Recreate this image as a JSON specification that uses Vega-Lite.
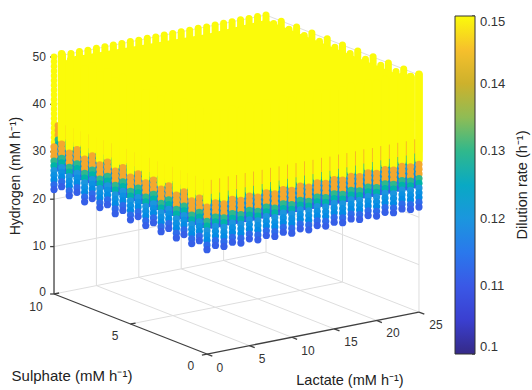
{"$schema":"https://vega.github.io/schema/vega-lite/v6.json","width":532,"height":390,"padding":0,"autosize":{"type":"none"},"background":"white","config":{"view":{"stroke":null},"font":"Liberation Sans"},
"datasets":{
"grid":[{"u":-18.04,"v":12.66,"u2":6.96,"v2":21.51},{"u":6.96,"v":21.51,"u2":25,"v2":8.85},{"u":-18.04,"v":22.66,"u2":6.96,"v2":31.51},{"u":6.96,"v":31.51,"u2":25,"v2":18.85},{"u":-18.04,"v":32.66,"u2":6.96,"v2":41.51},{"u":6.96,"v":41.51,"u2":25,"v2":28.85},{"u":-18.04,"v":42.66,"u2":6.96,"v2":51.51},{"u":6.96,"v":51.51,"u2":25,"v2":38.85},{"u":-18.04,"v":52.66,"u2":6.96,"v2":61.51},{"u":6.96,"v":61.51,"u2":25,"v2":48.85},{"u":-18.04,"v":62.66,"u2":6.96,"v2":71.51},{"u":6.96,"v":71.51,"u2":25,"v2":58.85},{"u":-13.04,"v":14.43,"u2":-13.04,"v2":64.43},{"u":-8.04,"v":16.2,"u2":-8.04,"v2":66.2},{"u":-3.04,"v":17.97,"u2":-3.04,"v2":67.97},{"u":1.96,"v":19.74,"u2":1.96,"v2":69.74},{"u":6.96,"v":21.51,"u2":6.96,"v2":71.51},{"u":15.98,"v":15.18,"u2":15.98,"v2":65.18},{"u":25,"v":8.85,"u2":25,"v2":58.85},{"u":5,"v":1.77,"u2":-13.04,"v2":14.43},{"u":10,"v":3.54,"u2":-8.04,"v2":16.2},{"u":15,"v":5.31,"u2":-3.04,"v2":17.97},{"u":20,"v":7.08,"u2":1.96,"v2":19.74},{"u":-9.02,"v":6.33,"u2":15.98,"v2":15.18}],
"axes":[{"u":-18.04,"v":12.66,"u2":-18.04,"v2":62.66},{"u":0,"v":0,"u2":-18.04,"v2":12.66},{"u":0,"v":0,"u2":25,"v2":8.85},{"u":-18.04,"v":12.66,"u2":-18.5,"v2":12.66},{"u":-18.04,"v":22.66,"u2":-18.5,"v2":22.66},{"u":-18.04,"v":32.66,"u2":-18.5,"v2":32.66},{"u":-18.04,"v":42.66,"u2":-18.5,"v2":42.66},{"u":-18.04,"v":52.66,"u2":-18.5,"v2":52.66},{"u":-18.04,"v":62.66,"u2":-18.5,"v2":62.66},{"u":0,"v":0,"u2":0.63,"v2":-0.44},{"u":5,"v":1.77,"u2":5.63,"v2":1.33},{"u":10,"v":3.54,"u2":10.63,"v2":3.1},{"u":15,"v":5.31,"u2":15.63,"v2":4.87},{"u":20,"v":7.08,"u2":20.63,"v2":6.64},{"u":25,"v":8.85,"u2":25.63,"v2":8.41},{"u":-9.02,"v":6.33,"u2":-8.42,"v2":6.54},{"u":-18.04,"v":12.66,"u2":-17.44,"v2":12.87},{"u":0,"v":0,"u2":-0.6,"v2":-0.21},{"u":31.25,"v":71.3,"u2":31.6,"v2":71.3},{"u":31.25,"v":56.96,"u2":31.6,"v2":56.96},{"u":31.25,"v":42.83,"u2":31.6,"v2":42.83},{"u":31.25,"v":28.5,"u2":31.6,"v2":28.5},{"u":31.25,"v":14.35,"u2":31.6,"v2":14.35},{"u":31.25,"v":0,"u2":31.6,"v2":0}],
"back":[{"u":-17.04,"v":63,"v2":46},{"u":-16.04,"v":63.4,"v2":45.3},{"u":-15.04,"v":63.8,"v2":44.6},{"u":-14.04,"v":64.1,"v2":43.9},{"u":-13.04,"v":64.5,"v2":43.2},{"u":-12.04,"v":64.8,"v2":42.5},{"u":-11.04,"v":65.2,"v2":41.8},{"u":-10.04,"v":65.5,"v2":41},{"u":-9.04,"v":65.9,"v2":40.3},{"u":-8.04,"v":66.2,"v2":39.6},{"u":-7.04,"v":66.6,"v2":38.9},{"u":-6.04,"v":66.9,"v2":38.2},{"u":-5.04,"v":67.3,"v2":37.5},{"u":-4.04,"v":67.6,"v2":36.8},{"u":-3.04,"v":68,"v2":36.1},{"u":-2.04,"v":68.3,"v2":35.4},{"u":-1.04,"v":68.7,"v2":34.7},{"u":-0.04,"v":69,"v2":34},{"u":0.96,"v":69.4,"v2":34.3},{"u":1.96,"v":69.8,"v2":34.7},{"u":2.96,"v":70.1,"v2":35},{"u":3.96,"v":70.5,"v2":35.4},{"u":4.96,"v":70.8,"v2":35.8},{"u":5.96,"v":71.2,"v2":36.1},{"u":6.96,"v":71.5,"v2":36.5},{"u":7.86,"v":69.7,"v2":36.8},{"u":8.76,"v":70.2,"v2":37.1},{"u":9.67,"v":68.5,"v2":37.4},{"u":10.57,"v":69,"v2":37.7},{"u":11.47,"v":67.2,"v2":38.1},{"u":12.37,"v":67.7,"v2":38.4},{"u":13.27,"v":66,"v2":38.7},{"u":14.18,"v":66.5,"v2":39},{"u":15.08,"v":64.7,"v2":39.3},{"u":15.98,"v":65.2,"v2":39.7},{"u":16.88,"v":63.4,"v2":40},{"u":17.78,"v":63.9,"v2":40.3},{"u":18.69,"v":62.2,"v2":40.6},{"u":19.59,"v":62.7,"v2":40.9},{"u":20.49,"v":60.9,"v2":41.3},{"u":21.39,"v":61.4,"v2":41.6},{"u":22.29,"v":59.6,"v2":41.9},{"u":23.2,"v":60.1,"v2":42.2},{"u":24.1,"v":58.4,"v2":42.5},{"u":25,"v":58.9,"v2":42.9}],
"mass":[{"u":-16.5,"v":62.5,"v2":45},{"u":0,"v":67.5,"v2":33.5},{"u":6.96,"v":70.5,"v2":36},{"u":22.5,"v":59,"v2":41.5}],
"filler":[
{"u":-17.59,"v":[48.2,47.2,46.2,45.2,44.2,43.2,42.2,41.2,40.2,39.2]},
{"u":-16.69,"v":[47.6,46.6,45.6,44.6,43.6,42.6,41.6,40.6,39.6,38.6]},
{"u":-15.78,"v":[47,46,45,44,43,42,41,40,39,38]},
{"u":-14.88,"v":[46.3,45.3,44.3,43.3,42.3,41.3,40.3,39.3,38.3,37.3]},
{"u":-13.98,"v":[45.7,44.7,43.7,42.7,41.7,40.7,39.7,38.7,37.7,36.7]},
{"u":-13.08,"v":[45.1,44.1,43.1,42.1,41.1,40.1,39.1,38.1,37.1,36.1]},
{"u":-12.18,"v":[44.4,43.4,42.4,41.4,40.4,39.4,38.4,37.4,36.4,35.4]},
{"u":-11.27,"v":[43.8,42.8,41.8,40.8,39.8,38.8,37.8,36.8,35.8,34.8]},
{"u":-10.37,"v":[43.2,42.2,41.2,40.2,39.2,38.2,37.2,36.2,35.2,34.2]},
{"u":-9.47,"v":[42.6,41.6,40.6,39.6,38.6,37.6,36.6,35.6,34.6,33.6]},
{"u":-8.57,"v":[41.9,40.9,39.9,38.9,37.9,36.9,35.9,34.9,33.9,32.9]},
{"u":-7.67,"v":[41.3,40.3,39.3,38.3,37.3,36.3,35.3,34.3,33.3,32.3]},
{"u":-6.76,"v":[40.7,39.7,38.7,37.7,36.7,35.7,34.7,33.7,32.7,31.7]},
{"u":-5.86,"v":[40,39,38,37,36,35,34,33,32,31]},
{"u":-4.96,"v":[39.4,38.4,37.4,36.4,35.4,34.4,33.4,32.4,31.4,30.4]},
{"u":-4.06,"v":[38.8,37.8,36.8,35.8,34.8,33.8,32.8,31.8,30.8,29.8]},
{"u":-3.16,"v":[38.1,37.1,36.1,35.1,34.1,33.1,32.1,31.1,30.1,29.1]},
{"u":-2.26,"v":[37.5,36.5,35.5,34.5,33.5,32.5,31.5,30.5,29.5,28.5]},
{"u":-1.35,"v":[36.9,35.9,34.9,33.9,32.9,31.9,30.9,29.9,28.9,27.9]},
{"u":-0.45,"v":[36.2,35.2,34.2,33.2,32.2,31.2,30.2,29.2,28.2,27.2]},
{"u":24.5,"v":[44.6,43.6,42.6,41.6,40.6,39.6,38.6,37.6,36.6,35.6]},
{"u":23.5,"v":[44.2,43.2,42.2,41.2,40.2,39.2,38.2,37.2,36.2,35.2]},
{"u":22.5,"v":[43.9,42.9,41.9,40.9,39.9,38.9,37.9,36.9,35.9,34.9]},
{"u":21.5,"v":[43.5,42.5,41.5,40.5,39.5,38.5,37.5,36.5,35.5,34.5]},
{"u":20.5,"v":[43.2,42.2,41.2,40.2,39.2,38.2,37.2,36.2,35.2,34.2]},
{"u":19.5,"v":[42.8,41.8,40.8,39.8,38.8,37.8,36.8,35.8,34.8,33.8]},
{"u":18.5,"v":[42.5,41.5,40.5,39.5,38.5,37.5,36.5,35.5,34.5,33.5]},
{"u":17.5,"v":[42.1,41.1,40.1,39.1,38.1,37.1,36.1,35.1,34.1,33.1]},
{"u":16.5,"v":[41.7,40.7,39.7,38.7,37.7,36.7,35.7,34.7,33.7,32.7]},
{"u":15.5,"v":[41.4,40.4,39.4,38.4,37.4,36.4,35.4,34.4,33.4,32.4]},
{"u":14.5,"v":[41,40,39,38,37,36,35,34,33,32]},
{"u":13.5,"v":[40.7,39.7,38.7,37.7,36.7,35.7,34.7,33.7,32.7,31.7]},
{"u":12.5,"v":[40.3,39.3,38.3,37.3,36.3,35.3,34.3,33.3,32.3,31.3]},
{"u":11.5,"v":[40,39,38,37,36,35,34,33,32,31]},
{"u":10.5,"v":[39.6,38.6,37.6,36.6,35.6,34.6,33.6,32.6,31.6,30.6]},
{"u":9.5,"v":[39.3,38.3,37.3,36.3,35.3,34.3,33.3,32.3,31.3,30.3]},
{"u":8.5,"v":[38.9,37.9,36.9,35.9,34.9,33.9,32.9,31.9,30.9,29.9]},
{"u":7.5,"v":[38.6,37.6,36.6,35.6,34.6,33.6,32.6,31.6,30.6,29.6]},
{"u":6.5,"v":[38.2,37.2,36.2,35.2,34.2,33.2,32.2,31.2,30.2,29.2]},
{"u":5.5,"v":[37.8,36.8,35.8,34.8,33.8,32.8,31.8,30.8,29.8,28.8]},
{"u":4.5,"v":[37.5,36.5,35.5,34.5,33.5,32.5,31.5,30.5,29.5,28.5]},
{"u":3.5,"v":[37.1,36.1,35.1,34.1,33.1,32.1,31.1,30.1,29.1,28.1]},
{"u":2.5,"v":[36.8,35.8,34.8,33.8,32.8,31.8,30.8,29.8,28.8,27.8]},
{"u":1.5,"v":[36.4,35.4,34.4,33.4,32.4,31.4,30.4,29.4,28.4,27.4]},
{"u":0.5,"v":[36.1,35.1,34.1,33.1,32.1,31.1,30.1,29.1,28.1,27.1]}],
"fronty":[{"u":-17.14,"v":63.3,"v2":45.3},{"u":-16.24,"v":61.4,"v2":43.4},{"u":-15.33,"v":62.1,"v2":44.1},{"u":-14.43,"v":60.1,"v2":42.1},{"u":-13.53,"v":60.8,"v2":42.8},{"u":-12.63,"v":58.9,"v2":40.9},{"u":-11.73,"v":59.5,"v2":41.5},{"u":-10.82,"v":57.6,"v2":39.6},{"u":-9.92,"v":58.3,"v2":40.3},{"u":-9.02,"v":56.3,"v2":38.3},{"u":-8.12,"v":57,"v2":39},{"u":-7.22,"v":55.1,"v2":37.1},{"u":-6.31,"v":55.7,"v2":37.7},{"u":-5.41,"v":53.8,"v2":35.8},{"u":-4.51,"v":54.5,"v2":36.5},{"u":-3.61,"v":52.5,"v2":34.5},{"u":-2.71,"v":53.2,"v2":35.2},{"u":-1.8,"v":51.3,"v2":33.3},{"u":-0.9,"v":51.9,"v2":33.9},{"u":0,"v":50,"v2":32},{"u":25,"v":59,"v2":41},{"u":24,"v":58.5,"v2":40.5},{"u":23,"v":58.6,"v2":40.6},{"u":22,"v":57.8,"v2":39.8},{"u":21,"v":57.9,"v2":39.9},{"u":20,"v":57.1,"v2":39.1},{"u":19,"v":57.2,"v2":39.2},{"u":18,"v":56.4,"v2":38.4},{"u":17,"v":56.5,"v2":38.5},{"u":16,"v":55.7,"v2":37.7},{"u":15,"v":55.8,"v2":37.8},{"u":14,"v":55,"v2":37},{"u":13,"v":55.1,"v2":37.1},{"u":12,"v":54.2,"v2":36.2},{"u":11,"v":54.4,"v2":36.4},{"u":10,"v":53.5,"v2":35.5},{"u":9,"v":53.7,"v2":35.7},{"u":8,"v":52.8,"v2":34.8},{"u":7,"v":53,"v2":35},{"u":6,"v":52.1,"v2":34.1},{"u":5,"v":52.3,"v2":34.3},{"u":4,"v":51.4,"v2":33.4},{"u":3,"v":51.6,"v2":33.6},{"u":2,"v":50.7,"v2":32.7},{"u":1,"v":50.9,"v2":32.9}],
"first":[{"u":-18.04,"v":[62.7,61.7,60.7,59.7,58.7,57.7,56.7,55.7,54.7,53.7,52.7,51.7,50.7,49.7,48.7,47.7,46.7,45.7,44.7],"d":[0.15,0.15,0.15,0.15,0.15,0.15,0.15,0.15,0.15,0.15,0.15,0.15,0.15,0.15,0.15,0.15,0.15,0.15,0.15]}],
"front":[
{"u":-18.04,"v":[43.7,42.7,41.7,40.7,39.7,38.7,37.7,36.7,35.7,34.7]},
{"u":-17.14,"v":[44.3,43.3,42.3,41.3,40.3,39.3,38.3,37.3,36.3,35.3]},
{"u":-16.24,"v":[42.4,41.4,40.4,39.4,38.4,37.4,36.4,35.4,34.4,33.4]},
{"u":-15.33,"v":[43.1,42.1,41.1,40.1,39.1,38.1,37.1,36.1,35.1,34.1]},
{"u":-14.43,"v":[41.1,40.1,39.1,38.1,37.1,36.1,35.1,34.1,33.1,32.1]},
{"u":-13.53,"v":[41.8,40.8,39.8,38.8,37.8,36.8,35.8,34.8,33.8,32.8]},
{"u":-12.63,"v":[39.9,38.9,37.9,36.9,35.9,34.9,33.9,32.9,31.9,30.9]},
{"u":-11.73,"v":[40.5,39.5,38.5,37.5,36.5,35.5,34.5,33.5,32.5,31.5]},
{"u":-10.82,"v":[38.6,37.6,36.6,35.6,34.6,33.6,32.6,31.6,30.6,29.6]},
{"u":-9.92,"v":[39.3,38.3,37.3,36.3,35.3,34.3,33.3,32.3,31.3,30.3]},
{"u":-9.02,"v":[37.3,36.3,35.3,34.3,33.3,32.3,31.3,30.3,29.3,28.3]},
{"u":-8.12,"v":[38,37,36,35,34,33,32,31,30,29]},
{"u":-7.22,"v":[36.1,35.1,34.1,33.1,32.1,31.1,30.1,29.1,28.1,27.1]},
{"u":-6.31,"v":[36.7,35.7,34.7,33.7,32.7,31.7,30.7,29.7,28.7,27.7]},
{"u":-5.41,"v":[34.8,33.8,32.8,31.8,30.8,29.8,28.8,27.8,26.8,25.8]},
{"u":-4.51,"v":[35.5,34.5,33.5,32.5,31.5,30.5,29.5,28.5,27.5,26.5]},
{"u":-3.61,"v":[33.5,32.5,31.5,30.5,29.5,28.5,27.5,26.5,25.5,24.5]},
{"u":-2.71,"v":[34.2,33.2,32.2,31.2,30.2,29.2,28.2,27.2,26.2,25.2]},
{"u":-1.8,"v":[32.3,31.3,30.3,29.3,28.3,27.3,26.3,25.3,24.3,23.3]},
{"u":-0.9,"v":[32.9,31.9,30.9,29.9,28.9,27.9,26.9,25.9,24.9,23.9]},
{"u":25,"v":[40,39,38,37,36,35,34,33,32,31]},
{"u":24,"v":[39.5,38.5,37.5,36.5,35.5,34.5,33.5,32.5,31.5,30.5]},
{"u":23,"v":[39.6,38.6,37.6,36.6,35.6,34.6,33.6,32.6,31.6,30.6]},
{"u":22,"v":[38.8,37.8,36.8,35.8,34.8,33.8,32.8,31.8,30.8,29.8]},
{"u":21,"v":[38.9,37.9,36.9,35.9,34.9,33.9,32.9,31.9,30.9,29.9]},
{"u":20,"v":[38.1,37.1,36.1,35.1,34.1,33.1,32.1,31.1,30.1,29.1]},
{"u":19,"v":[38.2,37.2,36.2,35.2,34.2,33.2,32.2,31.2,30.2,29.2]},
{"u":18,"v":[37.4,36.4,35.4,34.4,33.4,32.4,31.4,30.4,29.4,28.4]},
{"u":17,"v":[37.5,36.5,35.5,34.5,33.5,32.5,31.5,30.5,29.5,28.5]},
{"u":16,"v":[36.7,35.7,34.7,33.7,32.7,31.7,30.7,29.7,28.7,27.7]},
{"u":15,"v":[36.8,35.8,34.8,33.8,32.8,31.8,30.8,29.8,28.8,27.8]},
{"u":14,"v":[36,35,34,33,32,31,30,29,28,27]},
{"u":13,"v":[36.1,35.1,34.1,33.1,32.1,31.1,30.1,29.1,28.1,27.1]},
{"u":12,"v":[35.2,34.2,33.2,32.2,31.2,30.2,29.2,28.2,27.2,26.2]},
{"u":11,"v":[35.4,34.4,33.4,32.4,31.4,30.4,29.4,28.4,27.4,26.4]},
{"u":10,"v":[34.5,33.5,32.5,31.5,30.5,29.5,28.5,27.5,26.5,25.5]},
{"u":9,"v":[34.7,33.7,32.7,31.7,30.7,29.7,28.7,27.7,26.7,25.7]},
{"u":8,"v":[33.8,32.8,31.8,30.8,29.8,28.8,27.8,26.8,25.8,24.8]},
{"u":7,"v":[34,33,32,31,30,29,28,27,26,25]},
{"u":6,"v":[33.1,32.1,31.1,30.1,29.1,28.1,27.1,26.1,25.1,24.1]},
{"u":5,"v":[33.3,32.3,31.3,30.3,29.3,28.3,27.3,26.3,25.3,24.3]},
{"u":4,"v":[32.4,31.4,30.4,29.4,28.4,27.4,26.4,25.4,24.4,23.4]},
{"u":3,"v":[32.6,31.6,30.6,29.6,28.6,27.6,26.6,25.6,24.6,23.6]},
{"u":2,"v":[31.7,30.7,29.7,28.7,27.7,26.7,25.7,24.7,23.7,22.7]},
{"u":1,"v":[31.9,30.9,29.9,28.9,27.9,26.9,25.9,24.9,23.9,22.9]},
{"u":0,"v":[31,30,29,28,27,26,25,24,23,22]}],
"levels":[{"k":1,"d":0.142},{"k":2,"d":0.142},{"k":3,"d":0.142},{"k":4,"d":0.13},{"k":5,"d":0.128},{"k":6,"d":0.12},{"k":7,"d":0.119},{"k":8,"d":0.118},{"k":9,"d":0.113},{"k":10,"d":0.111}],
"right":[{"u":-18.99,"v":62.66,"t":"50"},{"u":-18.99,"v":52.74,"t":"40"},{"u":-18.99,"v":42.83,"t":"30"},{"u":-18.99,"v":32.7,"t":"20"},{"u":-18.99,"v":22.78,"t":"10"},{"u":-18.99,"v":13.08,"t":"0"}],
"center":[{"u":-20.17,"v":9.92,"t":"10"},{"u":-10.85,"v":3.8,"t":"5"},{"u":-1.89,"v":-2.53,"t":"0"},{"u":1.53,"v":-2.95,"t":"0"},{"u":6.49,"v":-1.05,"t":"5"},{"u":11.91,"v":0.63,"t":"10"},{"u":16.98,"v":2.53,"t":"15"},{"u":21.93,"v":4.43,"t":"20"},{"u":27,"v":6.12,"t":"25"}],
"titles":[{"u":-15.92,"v":-4.64,"t":"Sulphate (mM h⁻¹)","s":15},{"u":16.86,"v":-5.7,"t":"Lactate (mM h⁻¹)","s":14.5}],
"vtitles":[{"u":-22.52,"v":37.55,"t":"Hydrogen (mM h⁻¹)","s":14},{"u":37.26,"v":35.65,"t":"Dilution rate (h⁻¹)","s":14.5}]
},
"encoding":{"x":{"field":"u","type":"quantitative","scale":{"domain":[-24.41,38.33],"nice":false,"zero":false},"axis":null},"y":{"field":"v","type":"quantitative","scale":{"domain":[-7.59,74.68],"nice":false,"zero":false},"axis":null}},
"layer":[
{"data":{"name":"grid"},"mark":{"type":"rule","stroke":"#dedede","strokeWidth":1},"encoding":{"x2":{"field":"u2"},"y2":{"field":"v2"}}},
{"data":{"name":"axes"},"mark":{"type":"rule","stroke":"#404040","strokeWidth":1.3},"encoding":{"x2":{"field":"u2"},"y2":{"field":"v2"}}},
{"data":{"name":"back"},"mark":{"type":"rule","stroke":"#fbfb0a","strokeWidth":7,"strokeCap":"round"},"encoding":{"y2":{"field":"v2"}}},
{"data":{"name":"mass"},"mark":{"type":"area","color":"#fbfb0a","opacity":1},"encoding":{"y2":{"field":"v2"}}},
{"data":{"name":"first"},"transform":[{"flatten":["v","d"]}],"mark":{"type":"circle","opacity":1,"size":42},"encoding":{"color":{"field":"d","type":"quantitative","scale":{"domain":[0.1,0.105,0.11,0.115,0.12,0.125,0.13,0.135,0.14,0.142,0.145,0.1475,0.15],"range":["#352a87","#3a3fd0","#3a58e6","#2a78ec","#1b96de","#09a9c4","#30b88c","#8fbc55","#cdb12c","#f4a82e","#f6c02c","#f8dc1c","#fbfb0a"]},"legend":{"orient":"none","legendX":455,"legendY":16,"title":null,"gradientLength":338,"gradientThickness":20,"gradientStrokeColor":"#333333","gradientStrokeWidth":1,"values":[0.1,0.11,0.12,0.13,0.14,0.15],"format":".2~f","labelFontSize":13,"labelColor":"#333333","labelOffset":5,"labelFont":"Liberation Sans"}}}},
{"data":{"name":"filler"},"transform":[{"flatten":["v"]},{"window":[{"op":"row_number","as":"k"}],"groupby":["u"]},{"lookup":"k","from":{"data":{"name":"levels"},"key":"k","fields":["d"]}}],"mark":{"type":"circle","opacity":1,"size":42},"encoding":{"color":{"field":"d","type":"quantitative"}}},
{"data":{"name":"fronty"},"mark":{"type":"rule","stroke":"#fbfb0a","strokeWidth":7.7,"strokeCap":"round"},"encoding":{"y2":{"field":"v2"}}},
{"data":{"name":"front"},"transform":[{"flatten":["v"]},{"window":[{"op":"row_number","as":"k"}],"groupby":["u"]},{"lookup":"k","from":{"data":{"name":"levels"},"key":"k","fields":["d"]}}],"mark":{"type":"circle","opacity":1,"size":52},"encoding":{"color":{"field":"d","type":"quantitative"}}},
{"data":{"name":"right"},"mark":{"type":"text","align":"right","baseline":"middle","fontSize":12,"color":"#333333","font":"Liberation Sans"},"encoding":{"text":{"field":"t"}}},
{"data":{"name":"center"},"mark":{"type":"text","align":"center","baseline":"middle","fontSize":12,"color":"#333333","font":"Liberation Sans"},"encoding":{"text":{"field":"t"}}},
{"data":{"name":"titles"},"mark":{"type":"text","align":"center","baseline":"middle","color":"#222222","font":"Liberation Sans"},"encoding":{"text":{"field":"t"},"size":{"field":"s","type":"quantitative","scale":null,"legend":null}}},
{"data":{"name":"vtitles"},"mark":{"type":"text","align":"center","baseline":"middle","angle":270,"color":"#222222","font":"Liberation Sans"},"encoding":{"text":{"field":"t"},"size":{"field":"s","type":"quantitative","scale":null,"legend":null}}}
]}
